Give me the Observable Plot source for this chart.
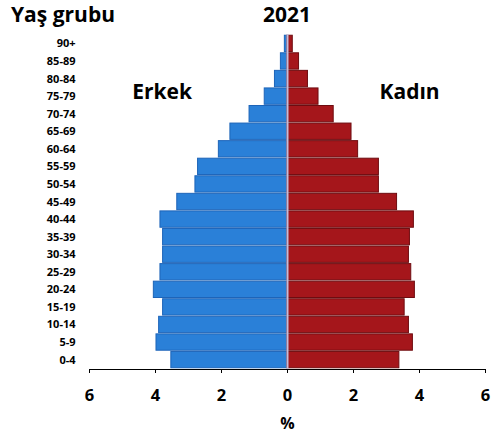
<!DOCTYPE html>
<html>
<head>
<meta charset="utf-8">
<script src="https://cdn.jsdelivr.net/npm/d3@7"></script>
<script src="https://cdn.jsdelivr.net/npm/@observablehq/plot@0.6"></script>
<style>
  body { margin: 0; background: #fff; font-family: "Open Sans", sans-serif; }
  #wrap { position: relative; width: 501px; height: 437px; }
  .hdr { position: absolute; top: 0; font-weight: 700; font-size: 21px; color: #000; line-height: normal; }
</style>
</head>
<body>
<div id="wrap">
  <div class="hdr" style="left:11px;">Yaş grubu</div>
  <div class="hdr" style="left:0; width:574px; text-align:center;">2021</div>
</div>
<script>
const ageGroups = ["90+","85-89","80-84","75-79","70-74","65-69","60-64","55-59","50-54","45-49","40-44","35-39","30-34","25-29","20-24","15-19","10-14","5-9","0-4"];
const maleValues = [0.08,0.2,0.38,0.69,1.15,1.73,2.08,2.71,2.79,3.34,3.85,3.77,3.77,3.85,4.05,3.77,3.89,3.97,3.52];
const femaleValues = [0.16,0.35,0.62,0.94,1.4,1.94,2.14,2.77,2.77,3.32,3.83,3.71,3.68,3.75,3.86,3.55,3.68,3.8,3.39];
const xTicks = [-6,-4,-2,0,2,4,6];
const sexLabels = [{label: "Erkek", x: -3.8, y: "75-79"}, {label: "Kadın", x: 3.7, y: "75-79"}];

const data = [
  ...ageGroups.map((a, i) => ({age: a, sex: "Erkek", value: -maleValues[i]})),
  ...ageGroups.map((a, i) => ({age: a, sex: "Kadın", value: femaleValues[i]}))
];

const chart = Plot.plot({
  width: 501,
  height: 437,
  marginLeft: 89,
  marginRight: 16,
  marginTop: 34,
  marginBottom: 68,
  style: {fontFamily: "Open Sans, sans-serif", color: "#000", background: "transparent"},
  x: {domain: [-6, 6], ticks: xTicks, tickFormat: d => Math.abs(d), label: null},
  y: {domain: ageGroups, label: null, padding: 0.07, round: false},
  marks: [
    Plot.barX(data, {
      x: "value", y: "age",
      fill: d => d.sex === "Erkek" ? "#2a80d8" : "#a5161b",
      stroke: d => d.sex === "Erkek" ? "#1d64b8" : "#6e0c10",
      strokeWidth: 1
    }),
    Plot.ruleX([0], {stroke: "#c4bcd8", strokeWidth: 2}),
    Plot.axisY({tickSize: 0, tickPadding: 14, fontSize: 11, fontWeight: 700, label: null}),
    Plot.axisX({ticks: xTicks, tickFormat: d => Math.abs(d), tickSize: 4, tickPadding: 16, fontSize: 16.5, fontWeight: 700, stroke: "#000", label: null}),
    Plot.frame({anchor: "bottom", stroke: "#000"}),
    Plot.text(sexLabels, {x: "x", y: "y", text: "label", fontSize: 21, fontWeight: 700, dy: -4}),
    Plot.text(["%"], {frameAnchor: "bottom", dy: 59, fontSize: 16, fontWeight: 700})
  ]
});
document.getElementById("wrap").appendChild(chart);
</script>
</body>
</html>
